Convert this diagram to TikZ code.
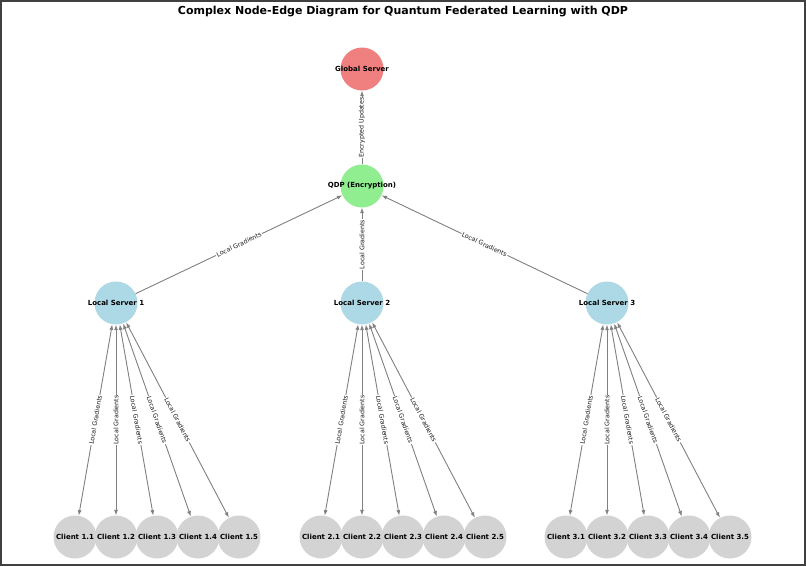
\documentclass[tikz,border=0pt]{standalone}
\usepackage{fontspec}
\setmainfont{DejaVu Sans}
\usetikzlibrary{arrows.meta}
\definecolor{gscol}{HTML}{F08080}
\definecolor{qdpcol}{HTML}{90EE90}
\definecolor{lscol}{HTML}{ADD8E6}
\definecolor{clcol}{HTML}{D3D3D3}
\definecolor{edgecol}{HTML}{808080}
\definecolor{framecol}{HTML}{404040}
\begin{document}
\begin{tikzpicture}[x=1pt,y=-1pt,
  nd/.style={circle, minimum size=43pt, inner sep=0pt, draw=none},
  lf/.style={font=\bfseries\fontsize{7}{8}\selectfont, text=black, inner sep=0pt},
  edg/.style={draw=edgecol, line width=0.9pt, -{Latex[length=5.5pt,width=4pt]}},
  edgb/.style={draw=edgecol, line width=0.9pt, {Latex[length=5.5pt,width=4pt]}-{Latex[length=5.5pt,width=4pt]}},
  lbl/.style={sloped, fill=white, inner sep=0.8pt, font=\fontsize{6.3}{7}\selectfont, text=black!90}
]
\useasboundingbox (0,0) rectangle (806,566);
\fill[white] (0,0) rectangle (806,566);
\draw[framecol, line width=2pt] (1,1) rectangle (805,565);

\node[font=\bfseries\fontsize{11}{13}\selectfont] (title) at (403,12) {Complex Node-Edge Diagram for Quantum Federated Learning with QDP};

\node[nd, fill=gscol, label={[lf]center:Global Server}] (gs) at (362,69) {};
\node[nd, fill=qdpcol, label={[lf]center:QDP (Encryption)}] (qdp) at (362,186) {};
\node[nd, fill=lscol, label={[lf]center:Local Server 1}] (ls1) at (116,303) {};
\node[nd, fill=lscol, label={[lf]center:Local Server 2}] (ls2) at (362,303) {};
\node[nd, fill=lscol, label={[lf]center:Local Server 3}] (ls3) at (607,303) {};

\foreach \i/\bx in {1/75, 2/321, 3/566} {
  \foreach \j in {1,...,5} {
    \pgfmathsetmacro{\cx}{\bx+41*(\j-1)}
    \node[nd, fill=clcol, label={[lf]center:Client \i.\j}] (c\i\j) at (\cx,537) {};
  }
}

\draw[edg] (qdp) -- node[lbl]{Encrypted Updates} (gs);
\draw[edg] (ls1) -- node[lbl]{Local Gradients} (qdp);
\draw[edg] (ls2) -- node[lbl]{Local Gradients} (qdp);
\draw[edg] (ls3) -- node[lbl]{Local Gradients} (qdp);

\foreach \i in {1,2,3} {
  \foreach \j in {1,...,5} {
    \draw[edgb] (c\i\j) -- node[lbl]{Local Gradients} (ls\i);
  }
}
\end{tikzpicture}
\end{document}
